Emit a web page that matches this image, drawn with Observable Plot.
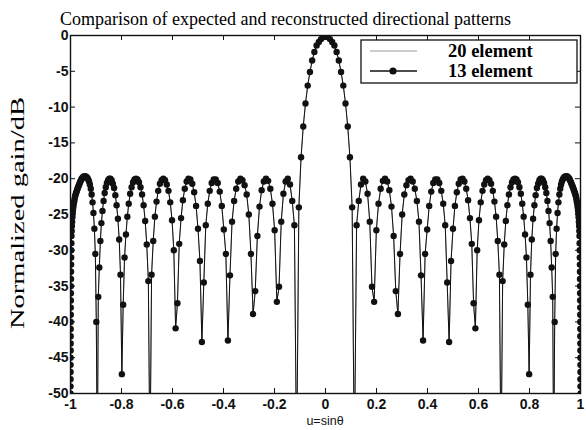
<!DOCTYPE html>
<html>
<head>
<meta charset="utf-8">
<script src="https://cdn.jsdelivr.net/npm/d3@7"></script>
<script src="https://cdn.jsdelivr.net/npm/@observablehq/plot@0.6"></script>
<style>
  html, body { margin: 0; padding: 0; background: #fff; }
  #chart { width: 586px; height: 430px; }
</style>
</head>
<body>
<div id="chart"></div>
<script>
// ---- data ----
const chartTitle = "Comparison of expected and reconstructed directional patterns";
const yLabel = "Normalized gain/dB";
const xLabel = "u=sinθ";
const seriesNames = ["20 element", "13 element"];
const xTicks = [-1, -0.8, -0.6, -0.4, -0.2, 0, 0.2, 0.4, 0.6, 0.8, 1];
const yTicks = [0, -5, -10, -15, -20, -25, -30, -35, -40, -45, -50];

// u = sin(theta) sample positions
const u13 = [
-1.0000,-0.9999,-0.9998,-0.9998,-0.9997,-0.9996,-0.9995,-0.9994,-0.9993,-0.9992,-0.9991,-0.9990,-0.9989,-0.9987,-0.9985,-0.9983,-0.9981,-0.9979,-0.9976,-0.9973,-0.9970,-0.9966,
-0.9962,-0.9954,-0.9945,-0.9936,-0.9925,-0.9914,-0.9903,-0.9890,-0.9877,-0.9863,-0.9848,-0.9833,-0.9816,-0.9799,-0.9781,-0.9763,-0.9744,-0.9724,-0.9703,-0.9681,-0.9659,-0.9636,-0.9613,-0.9588,-0.9563,-0.9537,-0.9511,-0.9483,-0.9455,-0.9426,-0.9397,-0.9367,-0.9336,-0.9304,-0.9272,-0.9239,-0.9205,-0.9171,-0.9135,-0.9100,-0.9063,-0.9026,-0.8988,
-0.8949,-0.8910,-0.8870,-0.8829,-0.8788,-0.8746,-0.8704,-0.8660,-0.8616,-0.8572,-0.8526,-0.8480,-0.8434,-0.8387,-0.8339,-0.8290,-0.8241,-0.8192,-0.8141,-0.8090,-0.8039,
-0.7986,-0.7934,-0.7880,-0.7826,-0.7771,-0.7716,-0.7660,-0.7604,-0.7547,-0.7490,-0.7431,-0.7373,-0.7314,-0.7254,-0.7193,-0.7133,-0.7071,-0.7009,-0.6947,
-0.6884,-0.6820,-0.6756,-0.6691,-0.6626,-0.6561,-0.6494,-0.6428,-0.6361,-0.6293,-0.6225,-0.6157,-0.6088,-0.6018,-0.5948,
-0.5878,-0.5807,-0.5736,-0.5664,-0.5592,-0.5519,-0.5446,-0.5373,-0.5299,-0.5225,-0.5150,-0.5075,-0.5000,-0.4924,
-0.4848,-0.4772,-0.4695,-0.4617,-0.4540,-0.4462,-0.4384,-0.4305,-0.4226,-0.4147,-0.4067,-0.3987,-0.3907,
-0.3827,-0.3746,-0.3665,-0.3584,-0.3502,-0.3420,-0.3338,-0.3256,-0.3173,-0.3090,-0.3007,-0.2924,-0.2840,
-0.2756,-0.2672,-0.2588,-0.2504,-0.2419,-0.2334,-0.2250,-0.2164,-0.2079,-0.1994,-0.1908,
-0.1822,-0.1736,-0.1650,-0.1564,-0.1478,-0.1392,-0.1305,-0.1219,
-0.1132,-0.1045,-0.0958,-0.0872,-0.0785,-0.0698,-0.0610,-0.0523,-0.0436,-0.0349,-0.0262,-0.0175,-0.0087,
0,
0.0087,0.0175,0.0262,0.0349,0.0436,0.0523,0.0610,0.0698,0.0785,0.0872,0.0958,0.1045,0.1132,
0.1219,0.1305,0.1392,0.1478,0.1564,0.1650,0.1736,0.1822,
0.1908,0.1994,0.2079,0.2164,0.2250,0.2334,0.2419,0.2504,0.2588,0.2672,0.2756,
0.2840,0.2924,0.3007,0.3090,0.3173,0.3256,0.3338,0.3420,0.3502,0.3584,0.3665,0.3746,0.3827,
0.3907,0.3987,0.4067,0.4147,0.4226,0.4305,0.4384,0.4462,0.4540,0.4617,0.4695,0.4772,0.4848,
0.4924,0.5000,0.5075,0.5150,0.5225,0.5299,0.5373,0.5446,0.5519,0.5592,0.5664,0.5736,0.5807,0.5878,
0.5948,0.6018,0.6088,0.6157,0.6225,0.6293,0.6361,0.6428,0.6494,0.6561,0.6626,0.6691,0.6756,0.6820,0.6884,
0.6947,0.7009,0.7071,0.7133,0.7193,0.7254,0.7314,0.7373,0.7431,0.7490,0.7547,0.7604,0.7660,0.7716,0.7771,0.7826,0.7880,0.7934,0.7986,
0.8039,0.8090,0.8141,0.8192,0.8241,0.8290,0.8339,0.8387,0.8434,0.8480,0.8526,0.8572,0.8616,0.8660,0.8704,0.8746,0.8788,0.8829,0.8870,0.8910,0.8949,
0.8988,0.9026,0.9063,0.9100,0.9135,0.9171,0.9205,0.9239,0.9272,0.9304,0.9336,0.9367,0.9397,0.9426,0.9455,0.9483,0.9511,0.9537,0.9563,0.9588,0.9613,0.9636,0.9659,0.9681,0.9703,0.9724,0.9744,0.9763,0.9781,0.9799,0.9816,0.9833,0.9848,0.9863,0.9877,0.9890,0.9903,0.9914,0.9925,0.9936,0.9945,0.9954,0.9962,
0.9966,0.9970,0.9973,0.9976,0.9979,0.9981,0.9983,0.9985,0.9987,0.9989,0.9990,0.9991,0.9992,0.9993,0.9994,0.9995,0.9996,0.9997,0.9998,0.9998,0.9999,1.0000
];

// 13 element reconstructed pattern (dB)
const gain13 = [
-50,-49,-48,-47,-46,-45,-44,-43,-42,-41,-40,-39,-38,-37,-36,-35,-34,-33,-32,-31,-30,-29,
-28.0,-27.3,-26.6,-26.0,-25.4,-24.9,-24.4,-24.0,-23.6,-23.3,-23.0,-22.7,-22.4,-22.2,-22.0,-21.8,-21.6,-21.4,-21.2,-21.0,-20.8,-20.6,-20.4,-20.2,-20.0,-19.9,-19.8,-19.7,-19.7,-19.7,-19.7,-19.8,-19.9,-20.1,-20.4,-20.8,-21.4,-22.2,-23.3,-24.8,-27.0,-30.5,-40.0,
-60,-36.5,-32.4,-28.7,-26.2,-24.5,-23.1,-22.0,-21.2,-20.6,-20.2,-20.0,-20.0,-20.2,-20.7,-21.3,-22.3,-23.7,-25.6,-28.5,-33.4,
-47.3,-37.6,-31.0,-27.8,-25.3,-23.5,-22.1,-21.2,-20.5,-20.1,-20.0,-20.1,-20.5,-21.2,-22.2,-23.7,-25.9,-29.2,-34.3,
-60,-33.4,-28.7,-25.3,-23.2,-21.7,-20.7,-20.2,-20.0,-20.2,-20.8,-21.7,-23.3,-25.8,-30.0,
-40.9,-37.4,-29.1,-25.5,-23.0,-21.4,-20.4,-20.0,-20.1,-20.7,-21.9,-23.8,-27.0,-31.5,
-42.8,-34.5,-26.5,-23.5,-21.7,-20.6,-20.1,-20.1,-20.6,-21.8,-23.8,-27.1,-30.5,
-42.6,-33.5,-26.0,-23.1,-21.4,-20.4,-20.0,-20.2,-20.9,-22.2,-25.0,-30.5,-38.9,
-35.7,-28.0,-23.9,-21.6,-20.4,-20.0,-20.3,-21.4,-23.5,-27.2,-37.2,
-35.1,-26.0,-22.1,-20.4,-20.0,-20.8,-23.1,-26.5,
-60,-24.0,-17.0,-12.7,-9.5,-7.0,-5.1,-3.5,-2.3,-1.4,-0.9,-0.5,-0.2,
0,
-0.2,-0.5,-0.9,-1.4,-2.3,-3.5,-5.1,-7.0,-9.5,-12.7,-17.0,-24.0,-60,
-26.5,-23.1,-20.8,-20.0,-20.4,-22.1,-26.0,-35.1,
-37.2,-27.2,-23.5,-21.4,-20.3,-20.0,-20.4,-21.6,-23.9,-28.0,-35.7,
-38.9,-30.5,-25.0,-22.2,-20.9,-20.2,-20.0,-20.4,-21.4,-23.1,-26.0,-33.5,-42.6,
-30.5,-27.1,-23.8,-21.8,-20.6,-20.1,-20.1,-20.6,-21.7,-23.5,-26.5,-34.5,-42.8,
-31.5,-27.0,-23.8,-21.9,-20.7,-20.1,-20.0,-20.4,-21.4,-23.0,-25.5,-29.1,-37.4,-40.9,
-30.0,-25.8,-23.3,-21.7,-20.8,-20.2,-20.0,-20.2,-20.7,-21.7,-23.2,-25.3,-28.7,-33.4,-60,
-34.3,-29.2,-25.9,-23.7,-22.2,-21.2,-20.5,-20.1,-20.0,-20.1,-20.5,-21.2,-22.1,-23.5,-25.3,-27.8,-31.0,-37.6,-47.3,
-33.4,-28.5,-25.6,-23.7,-22.3,-21.3,-20.7,-20.2,-20.0,-20.0,-20.2,-20.6,-21.2,-22.0,-23.1,-24.5,-26.2,-28.7,-32.4,-36.5,-60,
-40.0,-30.5,-27.0,-24.8,-23.3,-22.2,-21.4,-20.8,-20.4,-20.1,-19.9,-19.8,-19.7,-19.7,-19.7,-19.7,-19.8,-19.9,-20.0,-20.2,-20.4,-20.6,-20.8,-21.0,-21.2,-21.4,-21.6,-21.8,-22.0,-22.2,-22.4,-22.7,-23.0,-23.3,-23.6,-24.0,-24.4,-24.9,-25.4,-26.0,-26.6,-27.3,-28.0,
-29,-30,-31,-32,-33,-34,-35,-36,-37,-38,-39,-40,-41,-42,-43,-44,-45,-46,-47,-48,-49,-50
];

// 20 element expected pattern: indistinguishable from the 13 element curve in the picture
const gain20 = gain13.slice();

// ---- build ----
const n = Math.min(u13.length, gain13.length);
const rows13 = [], rows20 = [];
for (let i = 0; i < n; i++) {
  rows13.push({u: u13[i], g: gain13[i]});
  rows20.push({u: u13[i], g: gain20[i]});
}

const W = 586, H = 430, mL = 70, mR = 6, mT = 35, mB = 37;
const plotW = W - mL - mR, plotH = H - mT - mB;
const ink = "#111";

const chart = Plot.plot({
  width: W, height: H,
  marginLeft: mL, marginRight: mR, marginTop: mT, marginBottom: mB,
  style: {fontFamily: "'Liberation Sans', Arial, sans-serif", fontSize: "14px", color: ink, background: "#fff", overflow: "visible"},
  x: {domain: [-1, 1]},
  y: {domain: [-50, 0]},
  marks: [
    Plot.line(rows20, {x: "u", y: "g", stroke: "#9a9a9a", strokeWidth: 1, clip: true}),
    Plot.line(rows13, {x: "u", y: "g", stroke: ink, strokeWidth: 1, clip: true}),
    Plot.dot(rows13, {x: "u", y: "g", r: 3.2, fill: ink, stroke: "none", clip: true}),
    Plot.ruleX(xTicks, {x: d => d, insetTop: plotH - 5, stroke: ink}),
    Plot.ruleX(xTicks, {x: d => d, insetBottom: plotH - 5, stroke: ink}),
    Plot.ruleY(yTicks, {y: d => d, insetRight: plotW - 5, stroke: ink}),
    Plot.ruleY(yTicks, {y: d => d, insetLeft: plotW - 5, stroke: ink}),
    Plot.axisX(xTicks, {tickSize: 0, tickPadding: 6, tickFormat: d => String(d), fontWeight: "bold", label: null}),
    Plot.axisY(yTicks, {tickSize: 0, tickPadding: 2, tickFormat: d => String(d), fontWeight: "bold", label: null}),
    Plot.frame({stroke: ink, strokeWidth: 1.4})
  ]
});
document.getElementById("chart").appendChild(chart);

// ---- titles and legend (text, not data) ----
const svg = d3.select(chart);
const serif = "'Liberation Serif', 'Times New Roman', serif";

svg.append("text")
  .attr("x", 285.5).attr("y", 24.5)
  .attr("text-anchor", "middle")
  .style("font-family", serif).style("font-size", "18px").attr("fill", "#000")
  .text(chartTitle);

svg.append("text")
  .attr("transform", "translate(24,213) rotate(-90)")
  .attr("text-anchor", "middle")
  .attr("textLength", 232).attr("lengthAdjust", "spacingAndGlyphs")
  .style("font-family", serif).style("font-size", "19px").attr("fill", "#000")
  .text(yLabel);

svg.append("text")
  .attr("x", 325).attr("y", 424.5)
  .attr("text-anchor", "middle")
  .style("font-family", "'Liberation Sans', Arial, sans-serif").style("font-size", "12.5px").attr("fill", ink)
  .text(xLabel);

const lg = svg.append("g");
lg.append("rect").attr("x", 361).attr("y", 40).attr("width", 216).attr("height", 43)
  .attr("fill", "#fff").attr("stroke", ink).attr("stroke-width", 1.3);
lg.append("line").attr("x1", 370).attr("x2", 417).attr("y1", 51).attr("y2", 51)
  .attr("stroke", "#9a9a9a").attr("stroke-width", 1);
lg.append("line").attr("x1", 370).attr("x2", 417).attr("y1", 71).attr("y2", 71)
  .attr("stroke", ink).attr("stroke-width", 1.4);
lg.append("circle").attr("cx", 393).attr("cy", 71).attr("r", 3.6).attr("fill", ink);
seriesNames.forEach((name, i) => {
  lg.append("text").attr("x", 448).attr("y", 57 + i * 19.5)
    .attr("text-anchor", "start")
    .style("font-family", serif).style("font-size", "18.5px").style("font-weight", "bold")
    .attr("fill", "#000").text(name);
});
</script>
</body>
</html>
